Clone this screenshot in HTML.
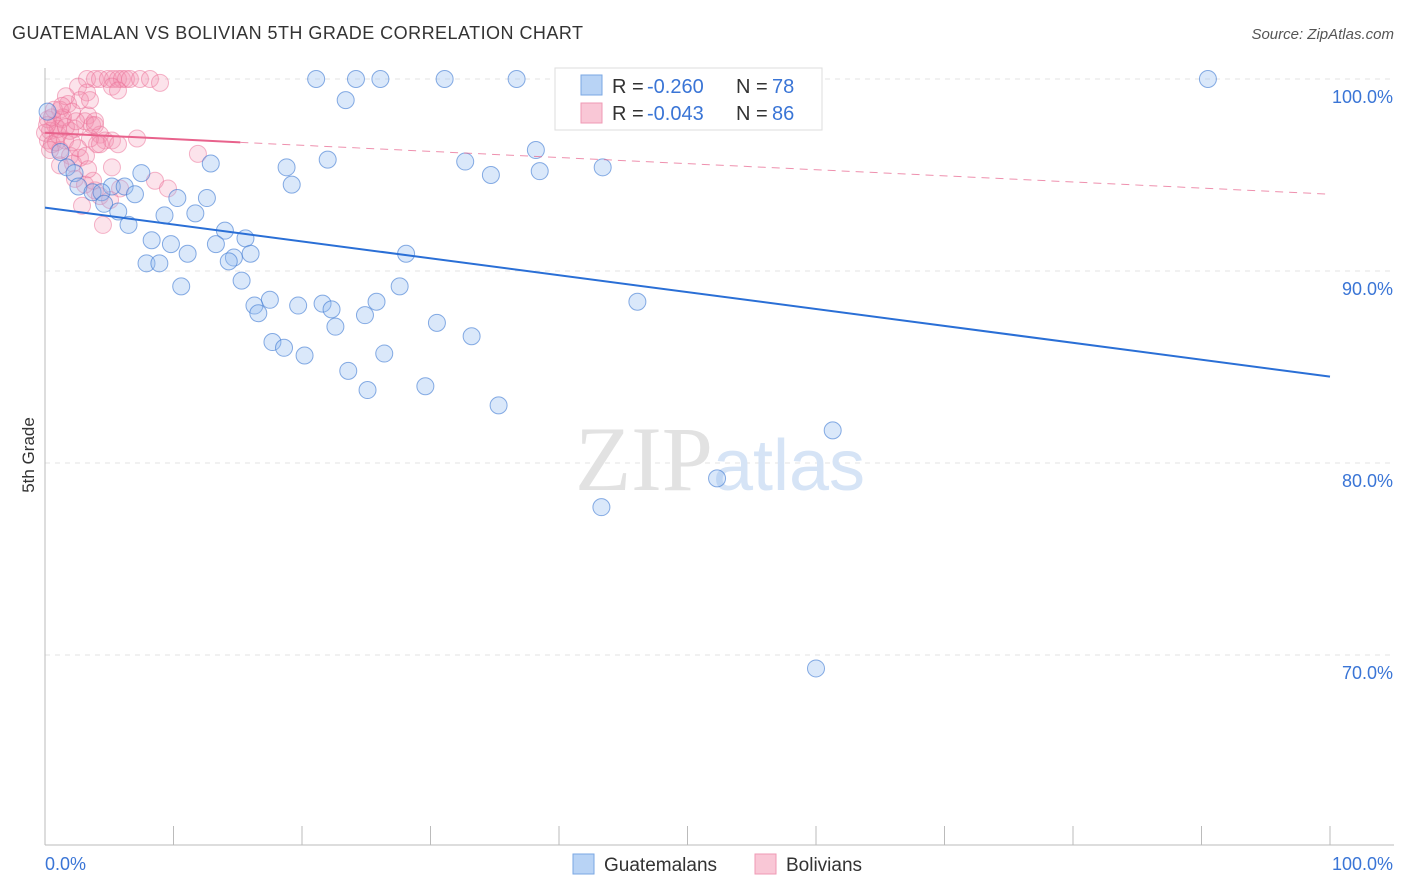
<!DOCTYPE html>
<html><head><meta charset="utf-8">
<style>
body{margin:0;background:#fff;font-family:"Liberation Sans",sans-serif;}
svg{display:block}
</style></head>
<body>
<svg id="chart" width="1406" height="892">
<text x="12" y="39" font-size="18" fill="#333" textLength="571">GUATEMALAN VS BOLIVIAN 5TH GRADE CORRELATION CHART</text>
<text x="1394" y="39" font-size="15" fill="#555" font-style="italic" text-anchor="end">Source: ZipAtlas.com</text>
<text x="34" y="455" font-size="17" fill="#333" text-anchor="middle" transform="rotate(-90 34 455)">5th Grade</text>
<g id="grid"></g>
<text x="720" y="490" font-size="92" fill="#e2e2e2" text-anchor="middle" font-family="Liberation Serif, serif">ZIP<tspan fill="#d6e4f6" font-family="Liberation Sans, sans-serif" font-size="72">atlas</tspan></text>
<g id="pts"></g>
<g id="lines"></g>
<g>
<rect x="555" y="68" width="267" height="62" fill="#fff" stroke="#ddd"/>
<rect x="581" y="75" width="21" height="20" fill="#b8d3f5" stroke="#7aa7e3"/>
<text x="612" y="93" font-size="20" fill="#333">R =</text>
<text x="647" y="93" font-size="20" fill="#3a75d6">-0.260</text>
<text x="736" y="93" font-size="20" fill="#333">N =</text>
<text x="772" y="93" font-size="20" fill="#3a75d6">78</text>
<rect x="581" y="103" width="21" height="20" fill="#f9c7d6" stroke="#ef9ab4"/>
<text x="612" y="120" font-size="20" fill="#333">R =</text>
<text x="647" y="120" font-size="20" fill="#3a75d6">-0.043</text>
<text x="736" y="120" font-size="20" fill="#333">N =</text>
<text x="772" y="120" font-size="20" fill="#3a75d6">86</text>
</g>
<g>
<rect x="573" y="854" width="21" height="20" fill="#b8d3f5" stroke="#7aa7e3"/>
<text x="604" y="871" font-size="19" fill="#333">Guatemalans</text>
<rect x="755" y="854" width="21" height="20" fill="#f9c7d6" stroke="#ef9ab4"/>
<text x="786" y="871" font-size="19" fill="#333">Bolivians</text>
</g>
</svg>
<script>
const yTicks=[100,90,80,70];
const xTickLabels=["0.0%","100.0%"];
const blueX=[21.1,24.2,26.1,31.1,36.7,58.6,90.5,23.4,0.2,38.2,22.0,32.7,12.9,18.8,43.4,38.5,34.7,1.2,1.7,2.3,7.5,19.2,2.6,5.2,6.2,3.7,4.4,7.0,10.3,12.6,4.6,5.7,9.3,11.7,6.5,14.0,15.6,8.3,9.8,13.3,11.1,16.0,28.1,14.7,14.3,7.9,8.9,15.3,10.6,27.6,17.5,16.3,19.7,21.6,25.8,46.1,22.3,16.6,24.9,30.5,22.6,33.2,17.7,18.6,20.2,26.4,23.6,29.6,25.1,35.3,61.3,52.3,43.3,60.0];
const blueY=[100,100,100,100,100,100,100,98.9,98.3,96.3,95.8,95.7,95.6,95.4,95.4,95.2,95.0,96.2,95.4,95.1,95.1,94.5,94.4,94.4,94.4,94.1,94.1,94.0,93.8,93.8,93.5,93.1,92.9,93.0,92.4,92.1,91.7,91.6,91.4,91.4,90.9,90.9,90.9,90.7,90.5,90.4,90.4,89.5,89.2,89.2,88.5,88.2,88.2,88.3,88.4,88.4,88.0,87.8,87.7,87.3,87.1,86.6,86.3,86.0,85.6,85.7,84.8,84.0,83.8,83.0,81.7,79.2,77.7,69.3];
const pinkX=[3.27,3.89,4.28,4.90,5.29,5.68,5.99,6.30,6.61,7.39,8.17,8.95,2.57,3.27,5.21,5.68,2.72,1.79,1.17,2.10,3.35,1.32,0.78,0.39,0.23,0.54,1.17,1.95,2.72,3.66,4.28,4.67,5.21,4.05,7.16,1.56,1.01,2.33,3.11,3.89,1.63,3.50,11.9,8.56,9.57,5.21,2.18,1.17,2.33,3.11,3.89,4.28,2.88,4.51,5.84,1.01,0.23,0.54,1.40,1.95,0,0.16,0.86,2.10,3.50,4.28,2.57,3.19,1.63,2.41,0.70,1.32,3.74,5.06,0.39,3.35,3.89,5.68];
const pinkY=[100,100,100,100,100,100,100,100,100,100,100,99.8,99.6,99.3,99.6,99.4,98.9,98.7,98.4,98.3,98.1,97.9,97.6,97.3,96.8,96.6,96.3,96.0,95.9,97.6,97.1,96.8,96.8,96.6,96.9,96.8,97.1,97.4,97.8,97.8,99.1,98.9,96.1,94.7,94.3,95.4,95.6,95.5,94.8,94.5,94.2,93.9,93.4,92.4,94.3,97.4,97.9,98.0,98.0,97.3,97.2,97.6,96.7,96.7,96.9,96.6,96.4,96.0,97.5,97.8,98.4,98.6,94.7,93.7,96.3,95.3,97.6,96.6];
const blueTrend=[[0,93.3],[100,84.5]];
const pinkTrend=[[0,97.2],[15.2,96.7],[100,94.0]];
const X=v=>45+v*12.85, Y=v=>79+(100-v)*19.2;
const NS="http://www.w3.org/2000/svg";
function mk(t,a,p){const e=document.createElementNS(NS,t);for(const k in a)e.setAttribute(k,a[k]);p.appendChild(e);return e;}
const grid=document.getElementById('grid');
yTicks.forEach(t=>{
 const l=mk('line',{x1:45,x2:1394,y1:Y(t),y2:Y(t),stroke:'#e3e3e3','stroke-dasharray':'5,5'},grid);
 
 
 const tx=mk('text',{x:1393,y:Y(t)+24,'font-size':18,fill:'#3a75d6','text-anchor':'end'},grid);
 tx.textContent=t.toFixed(1)+'%';
 
 
});
const ax=mk('line',{x1:45,x2:45,y1:68,y2:845,stroke:'#bbb'},grid);


const bx=mk('line',{x1:45,x2:1394,y1:845,y2:845,stroke:'#bbb'},grid);


for(let i=0;i<=10;i++){const t=mk('line',{x1:X(i*10),x2:X(i*10),y1:826,y2:845,stroke:'#bbb'},grid);
 
 }
xTickLabels.forEach((s,i)=>{const t=mk('text',{x:i?1393:45,y:870,'font-size':18,fill:'#3a75d6','text-anchor':i?'end':'start'},grid);t.textContent=s;
 
 });
const pts=document.getElementById('pts');
pinkX.forEach((x,i)=>{const c=mk('circle',{cx:X(x),cy:Y(pinkY[i]),r:8.5,fill:'rgba(244,143,177,0.25)',stroke:'rgba(236,110,150,0.5)','stroke-width':1},pts);
 
 });
blueX.forEach((x,i)=>{const c=mk('circle',{cx:X(x),cy:Y(blueY[i]),r:8.5,fill:'rgba(150,190,240,0.35)',stroke:'rgba(60,120,210,0.6)','stroke-width':1},pts);
 
 });
const lines=document.getElementById('lines');
const b=mk('line',{x1:X(blueTrend[0][0]),y1:Y(blueTrend[0][1]),x2:X(blueTrend[1][0]),y2:Y(blueTrend[1][1]),stroke:'#2a6fd6','stroke-width':2},lines);


const p1=mk('line',{x1:X(pinkTrend[0][0]),y1:Y(pinkTrend[0][1]),x2:X(pinkTrend[1][0]),y2:Y(pinkTrend[1][1]),stroke:'#e8628c','stroke-width':2},lines);


const p2=mk('line',{x1:X(pinkTrend[1][0]),y1:Y(pinkTrend[1][1]),x2:X(pinkTrend[2][0]),y2:Y(pinkTrend[2][1]),stroke:'#e8628c','stroke-width':1,'stroke-dasharray':'8,6',opacity:0.7},lines);


</script>
</body></html>
